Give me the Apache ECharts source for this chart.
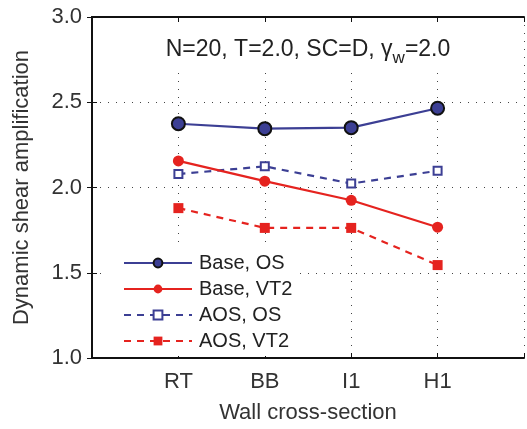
<!DOCTYPE html>
<html><head><meta charset="utf-8">
<script src="https://cdn.jsdelivr.net/npm/echarts@6/dist/echarts.min.js"></script>
<style>html,body{margin:0;padding:0;background:#fff}#c{width:527px;height:429px}</style>
</head><body><div id="c"></div>
<script>
const categories = ['RT', 'BB', 'I1', 'H1'];
const baseOS  = [2.374, 2.345, 2.351, 2.465];
const baseVT2 = [2.156, 2.037, 1.925, 1.767];
const aosOS   = [2.079, 2.124, 2.023, 2.098];
const aosVT2  = [1.879, 1.763, 1.763, 1.545];
const yTicks = [1.0, 1.5, 2.0, 2.5, 3.0];

const FONT = 'Liberation Sans';
const BLUE = '#3c3f94';
const RED = '#e5231f';
const pts = arr => arr.map((v, i) => [i + 1, v]);

const chart = echarts.init(document.getElementById('c'), null, {renderer: 'canvas'});
const xBase = {
  type: 'value', min: 0, max: 5, interval: 1,
  axisLine: {show: true, lineStyle: {color: '#111', width: 2}},
  axisTick: {show: true, inside: true, length: 5, lineStyle: {color: '#111', width: 1}},
  splitLine: {show: false}
};
const yBase = {
  type: 'value', min: 1, max: 3, interval: 0.5,
  axisLine: {show: true, lineStyle: {color: '#111', width: 2}},
  axisTick: {show: true, inside: true, length: 5, lineStyle: {color: '#111', width: 1}},
  splitLine: {show: false}
};
const lbl = {fontFamily: FONT, fontSize: 22, color: '#333'};

chart.setOption({
  animation: false,
  backgroundColor: '#fff',
  title: {
    text: '{a|N=20, T=2.0, SC=D, γ}{s|w}{a|=2.0}',
    left: 296, top: 24, textAlign: 'center',
    backgroundColor: '#fff',
    padding: [14, 12, 4, 12],
    z: 3,
    textStyle: {
      fontWeight: 'normal',
      rich: {
        a: {fontFamily: FONT, fontSize: 23, fontWeight: 'normal', color: '#222', lineHeight: 26, verticalAlign: 'top'},
        s: {fontFamily: FONT, fontSize: 17, fontWeight: 'normal', color: '#222', lineHeight: 26, verticalAlign: 'top', padding: [12, 0, 0, 0]}
      }
    }
  },
  grid: {left: 92, right: 3, top: 17, bottom: 66, containLabel: false},
  xAxis: [
    Object.assign({}, xBase, {
      position: 'bottom',
      name: 'Wall cross-section', nameLocation: 'middle', nameGap: 44,
      nameTextStyle: Object.assign({}, lbl),
      axisLabel: Object.assign({margin: 13, formatter: v => categories[v - 1] || ''}, lbl),
      splitLine: {show: true, lineStyle: {color: '#444', type: [1, 7], width: 1}}
    }),
    Object.assign({}, xBase, {position: 'top', axisLabel: {show: false}, z: 10})
  ],
  yAxis: [
    Object.assign({}, yBase, {
      position: 'left',
      name: 'Dynamic shear amplification', nameLocation: 'middle', nameGap: 59,
      nameTextStyle: Object.assign({}, lbl),
      axisLabel: Object.assign({margin: 10, formatter: v => yTicks.includes(v) ? v.toFixed(1) : ''}, lbl),
      splitLine: {show: true, lineStyle: {color: '#444', type: [1, 7], width: 1}}
    }),
    Object.assign({}, yBase, {position: 'right', axisLabel: {show: false}, z: 10})
  ],
  legend: {
    left: 108, top: 248, orient: 'vertical',
    backgroundColor: '#fff',
    padding: [5, 6, 5, 15],
    itemWidth: 68, itemHeight: 11, itemGap: 6,
    textStyle: {fontFamily: FONT, fontSize: 20, color: '#222', padding: [0, 0, 0, 2]},
    data: ['Base, OS', 'Base, VT2', 'AOS, OS', 'AOS, VT2']
  },
  series: [
    {name: 'Base, OS', type: 'line', data: pts(baseOS), symbol: 'circle', symbolSize: 13,
     itemStyle: {color: BLUE, borderColor: '#111', borderWidth: 2},
     lineStyle: {color: BLUE, width: 2.2}, z: 5},
    {name: 'Base, VT2', type: 'line', data: pts(baseVT2), symbol: 'circle', symbolSize: 11,
     itemStyle: {color: RED, borderColor: RED, borderWidth: 0},
     lineStyle: {color: RED, width: 2.2}, z: 4},
    {name: 'AOS, OS', type: 'line', data: pts(aosOS), symbol: 'rect', symbolSize: 8,
     itemStyle: {color: '#fff', borderColor: BLUE, borderWidth: 2},
     lineStyle: {color: BLUE, width: 2.2, type: [7, 6]}, z: 3},
    {name: 'AOS, VT2', type: 'line', data: pts(aosVT2), symbol: 'rect', symbolSize: 10,
     itemStyle: {color: RED, borderColor: RED, borderWidth: 0},
     lineStyle: {color: RED, width: 2.2, type: [7, 6]}, z: 2}
  ]
});
</script></body></html>
